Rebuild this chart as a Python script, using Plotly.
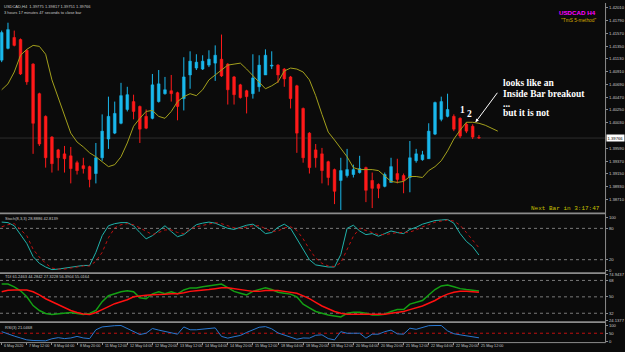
import plotly.graph_objects as go

W, H = 625, 352
def px(x): return x / W
def py(y): return 1 - y / H

# ---------------- data ----------------
OPEN = [1.41109,1.41313,1.41500,1.41466,1.41279,1.41041,1.40531,1.40140,1.39783,1.39562,
        1.39494,1.39460,1.39341,1.39290,1.39273,1.39154,1.39426,1.39749,1.39851,1.40021,
        1.40259,1.40395,1.40310,1.40140,1.40106,1.40395,1.40531,1.40582,1.40548,1.40446,
        1.40854,1.40973,1.40956,1.41024,1.41058,1.41126,1.41041,1.40820,1.40684,1.40582,
        1.40531,1.40650,1.40854,1.41007,1.41024,1.40956,1.40820,1.40667,1.40276,1.39851,
        1.39562,1.39494,1.39358,1.39222,1.39035,1.39120,1.39137,1.39171,1.39256,1.39035,
        1.38967,1.38933,1.39001,1.39154,1.39120,1.39086,1.39375,1.39392,1.39409,1.39834,
        1.40089,1.40140,1.40140,1.40106,1.40004,1.39970,1.39775]
HIGH = [1.41619,1.41755,1.41619,1.41483,1.41296,1.41058,1.40548,1.40157,1.39800,1.39579,
        1.39630,1.39613,1.39375,1.39426,1.39290,1.39681,1.40174,1.40480,1.40395,1.40718,
        1.40650,1.40514,1.40327,1.40259,1.40871,1.40939,1.40820,1.40854,1.40565,1.41160,
        1.41262,1.41211,1.41194,1.41279,1.41364,1.41551,1.41058,1.40837,1.40701,1.40599,
        1.41211,1.41194,1.41296,1.41262,1.41041,1.40973,1.40837,1.40684,1.40293,1.39868,
        1.39664,1.39596,1.39375,1.39239,1.39426,1.39579,1.39307,1.39460,1.39273,1.39171,
        1.38984,1.39171,1.39426,1.39409,1.39154,1.39715,1.39579,1.39545,1.40021,1.40395,
        1.40480,1.40531,1.40174,1.40123,1.40038,1.40004,1.39817]
LOW = [1.41075,1.41296,1.41347,1.40854,1.40684,1.39494,1.39630,1.39256,1.39171,1.39205,
       1.39171,1.38984,1.39137,1.39154,1.38916,1.38984,1.39375,1.39579,1.39834,1.40004,
       1.40225,1.40089,1.39681,1.39919,1.40089,1.40378,1.40514,1.40395,1.40072,1.40242,
       1.40616,1.40939,1.40939,1.40990,1.40752,1.40820,1.40344,1.40344,1.40446,1.40191,
       1.40446,1.40565,1.40854,1.40956,1.40718,1.40650,1.40276,1.39511,1.39341,1.39154,
       1.39256,1.38984,1.38950,1.38627,1.38525,1.39086,1.39086,1.39154,1.38661,1.38559,
       1.38729,1.38916,1.39001,1.38984,1.38814,1.38831,1.39341,1.39375,1.39409,1.39817,
       1.40055,1.40123,1.39885,1.39766,1.39851,1.39749,1.39751]
CLOSE = [1.41585,1.41636,1.41364,1.40871,1.40735,1.40021,1.39664,1.39426,1.39324,1.39426,
         1.39409,1.39239,1.39205,1.39239,1.39052,1.39426,1.39885,1.40140,1.40191,1.40497,
         1.40514,1.40225,1.39919,1.39936,1.40684,1.40701,1.40599,1.40531,1.40310,1.40820,
         1.41092,1.41075,1.41092,1.41126,1.41194,1.40837,1.40599,1.40514,1.40463,1.40480,
         1.40803,1.41024,1.41194,1.41024,1.40854,1.40786,1.40446,1.39851,1.39426,1.39256,
         1.39426,1.39205,1.39086,1.38848,1.39205,1.39222,1.39222,1.39239,1.38865,1.38899,
         1.38899,1.39137,1.39273,1.39052,1.39035,1.39426,1.39494,1.39477,1.39885,1.40378,
         1.40395,1.40259,1.39919,1.39800,1.39885,1.39783,1.39766]
# displaced moving average (extends 3 bars past the last candle)
MA = [1.40599,1.40701,1.40905,1.41194,1.41296,1.41364,1.41347,1.41211,1.40769,1.40463,
      1.40174,1.39851,1.39698,1.39613,1.39511,1.39443,1.39358,1.39273,1.39307,1.39443,
      1.39681,1.39970,1.40106,1.40225,1.40242,1.40140,1.40106,1.40225,1.40395,1.40480,
      1.40531,1.40497,1.40599,1.40769,1.40854,1.40939,1.41024,1.41041,1.41058,1.40956,
      1.40837,1.40735,1.40616,1.40667,1.40735,1.40922,1.40973,1.40956,1.40905,1.40769,
      1.40497,1.40174,1.39868,1.39732,1.39596,1.39443,1.39256,1.39222,1.39222,1.39222,
      1.39205,1.39103,1.39018,1.39001,1.39018,1.39103,1.39103,1.39086,1.39205,1.39273,
      1.39375,1.39545,1.39749,1.39902,1.40038,1.40038,1.40021,1.39987,1.39936,1.39885]
STOCH_MAIN = [92,91,85,68,51,26,13,6,1,2,4,6,8,9,9,34,66,85,89,91,91,85,72,60,66,75,85,74,64,68,
              77,87,90,92,90,85,80,78,82,86,88,80,70,72,82,88,80,60,40,20,10,8,6,6,30,80,86,75,
              68,70,65,70,75,72,70,78,82,88,92,95,96,97,90,70,55,45,28.8886]
STOCH_SIG = [83,87,89,77,66,40,25,13,4,2,2,4,6,8,8,17,34,62,81,87,89,87,81,74,68,72,77,77,72,70,
             79,83,86,89,91,89,85,81,80,82,85,85,79,74,75,81,83,76,60,40,23,13,8,7,14,39,65,80,
             76,71,68,68,70,72,72,73,77,83,87,92,94,96,94,86,72,57,42.8139]
TDI_GREEN = [64.1,64.1,60.9,56.6,50.1,40.4,35.0,31.7,30.6,31.2,31.7,32.8,31.7,30.6,31.7,35.0,
             44.7,51.2,53.3,55.5,56.6,55.5,49.0,47.9,53.3,55.5,53.3,55.5,53.3,57.6,59.8,59.8,
             61,62,63,64,60,56,54,52,56,58,60,58,55,54,53,50,42,38,34,32,30,29,28,32,
             33,33,32,30,30,31,34,36,36,42,44,46,52,58,62,63,61,59,58,57,56.3904]
TDI_RED = [55.5,57.1,57.6,57.6,57.6,55.5,52.2,47.9,44.7,41.5,38.2,35.0,32.8,31.2,30.6,32.8,
           36.0,39.3,42.5,44.7,46.8,50.1,51.2,51.7,52.2,52.2,52.8,53.3,53.3,54.4,56.0,56.6,
           57,58,59,60,60,59,58,57,56,56,57,57,57,56,55,54,51,48,44,40,37,34,32,31,
           31,31,31,31,31,31,32,33,34,36,38,40,43,46,50,53,55,56,56,55.5,55.0164]
RSI = [60,44,32,20,8,4,2,2,15,22,16,20,30,20,16,72,90,96,98,99,80,58,42,50,80,70,60,50,44,90,
       72,72,75,80,84,30,19,28,36,55,72,88,92,78,52,40,28,12,20,19,37,40,16,8,60,50,50,50,19,44,
       44,60,70,46,44,82,75,88,98,99,99,65,47,40,33,25,21.0468]
TIME_LABELS = ["6 May 2020","7 May 12:00","8 May 04:00","8 May 20:00","11 May 12:00",
               "12 May 04:00","12 May 20:00","13 May 12:00","14 May 04:00","14 May 20:00",
               "15 May 12:00","18 May 04:00","18 May 20:00","19 May 12:00","20 May 04:00",
               "20 May 20:00","21 May 12:00","22 May 04:00","22 May 20:00","25 May 12:00"]
TIME_LABEL_BARS = [0,4,8,12,16,20,24,28,32,36,40,44,48,52,56,60,64,68,72,76]
PRICE_TICKS = [1.42010,1.41790,1.41570,1.41350,1.41130,1.40910,1.40690,1.40470,1.40250,
               1.40030,1.39590,1.39370,1.39150,1.38930,1.38710]
LAST_PRICE = 1.39766
STOCH_LEVELS = [20, 80]
TDI_LEVELS = [32, 50, 68]
TDI_RANGE = [24.1377, 74.9437]
RSI_LEVEL = 50

# ---------------- styles ----------------
BG = "#0b0b0b"
UP = "#1ab8ec"
DN = "#ff1a1a"
GRAY = "#8c8c8c"
TXT = "#c8c8c8"
FONT = "Liberation Sans"

n = len(OPEN)
idx = list(range(n))
up = [i for i in idx if CLOSE[i] >= OPEN[i]]
dn = [i for i in idx if CLOSE[i] < OPEN[i]]

fig = go.Figure()

def wick_trace(ids, color):
    xs, ys = [], []
    for i in ids:
        xs += [i, i, None]
        ys += [LOW[i], HIGH[i], None]
    return go.Scatter(x=xs, y=ys, mode="lines", line=dict(color=color, width=1),
                      hoverinfo="skip", showlegend=False, xaxis="x", yaxis="y")

def body_trace(ids, color):
    return go.Bar(x=ids, y=[abs(CLOSE[i] - OPEN[i]) for i in ids],
                  base=[min(OPEN[i], CLOSE[i]) for i in ids], width=0.44,
                  marker=dict(color=color, line=dict(color=color, width=0.5)),
                  showlegend=False, xaxis="x", yaxis="y")

fig.add_trace(wick_trace(up, UP))
fig.add_trace(wick_trace(dn, DN))
fig.add_trace(body_trace(up, UP))
fig.add_trace(body_trace(dn, DN))
fig.add_trace(go.Scatter(x=list(range(len(MA))), y=MA, mode="lines",
                         line=dict(color="#a3a01c", width=1), showlegend=False,
                         xaxis="x", yaxis="y"))

# stochastic
fig.add_trace(go.Scatter(x=idx, y=STOCH_MAIN, mode="lines", line=dict(color="#20b2aa", width=1),
                         showlegend=False, xaxis="x", yaxis="y2"))
fig.add_trace(go.Scatter(x=idx, y=STOCH_SIG, mode="lines",
                         line=dict(color="#c01010", width=1, dash="dot"),
                         showlegend=False, xaxis="x", yaxis="y2"))
# TDI
fig.add_trace(go.Scatter(x=idx, y=TDI_GREEN, mode="lines", line=dict(color="#14a014", width=1.5),
                         showlegend=False, xaxis="x", yaxis="y3"))
fig.add_trace(go.Scatter(x=idx, y=TDI_RED, mode="lines", line=dict(color="#ff1010", width=1.5),
                         showlegend=False, xaxis="x", yaxis="y3"))
# RSI
fig.add_trace(go.Scatter(x=idx, y=RSI, mode="lines", line=dict(color="#2a78d0", width=1),
                         showlegend=False, xaxis="x", yaxis="y4"))

XR = [(0 - 1.7) / 6.3, (607 - 1.7) / 6.3]
tickfont = dict(family=FONT, size=4.2, color=TXT)

def yax(dom, rng, tv, tt):
    return dict(domain=dom, range=rng, side="right", anchor="x", showgrid=False,
                zeroline=False, showline=False, tickvals=tv, ticktext=tt,
                ticks="outside", ticklen=2, tickcolor=GRAY, tickfont=tickfont,
                fixedrange=True)

fig.update_layout(
    width=W, height=H, margin=dict(l=0, r=0, t=0, b=0),
    paper_bgcolor=BG, plot_bgcolor=BG, barmode="overlay", showlegend=False,
    xaxis=dict(domain=[0, px(607)], range=XR, anchor="y4", showgrid=False, zeroline=False,
               showline=False, tickvals=TIME_LABEL_BARS, ticks="outside", ticklen=2,
               tickcolor=GRAY, showticklabels=False),
    yaxis=yax([py(212), py(0)], [1.42095 - 0.00017 * 212, 1.42095], PRICE_TICKS,
              ["%.5f" % v for v in PRICE_TICKS]),
    yaxis2=yax([py(273), py(216)], [-3.8, 103.8], [0, 20, 80, 100], ["0", "20", "80", "100"]),
    yaxis3=yax([py(322), py(275)], TDI_RANGE, [TDI_RANGE[0], 32, 50, 68, TDI_RANGE[1]],
               ["%.4f" % TDI_RANGE[0], "32", "50", "68", "%.4f" % TDI_RANGE[1]]),
    yaxis4=yax([py(344), py(325)], [-6.25, 112.5], [0, 50, 100], ["0", "50", "100"]),
)

shapes = []
# panel separators
for y0 in [212.5, 273.2, 322.8]:
    shapes.append(dict(type="rect", xref="paper", yref="paper", x0=0, x1=px(607),
                       y0=py(y0 + 1.8), y1=py(y0), fillcolor=GRAY, line=dict(width=0)))
shapes.append(dict(type="line", xref="paper", yref="paper", x0=px(607.5), x1=px(607.5),
                   y0=py(344.5), y1=1, line=dict(color=GRAY, width=1)))
shapes.append(dict(type="line", xref="paper", yref="paper", x0=0, x1=px(607.5),
                   y0=py(344.5), y1=py(344.5), line=dict(color=GRAY, width=1)))
# bid line
shapes.append(dict(type="line", xref="paper", yref="y", x0=0, x1=px(607), y0=LAST_PRICE,
                   y1=LAST_PRICE, line=dict(color="#2e2e2e", width=1), layer="below"))
for lv in STOCH_LEVELS:
    shapes.append(dict(type="line", xref="paper", yref="y2", x0=0, x1=px(607), y0=lv, y1=lv,
                       line=dict(color="#7a7a7a", width=1, dash="dot"), layer="below"))
for lv in TDI_LEVELS:
    shapes.append(dict(type="line", xref="paper", yref="y3", x0=0, x1=px(607), y0=lv, y1=lv,
                       line=dict(color="#7a7a7a", width=1, dash="dot"), layer="below"))
shapes.append(dict(type="line", xref="paper", yref="y4", x0=0, x1=px(607), y0=RSI_LEVEL,
                   y1=RSI_LEVEL, line=dict(color="#c01010", width=1, dash="dot"), layer="below"))
fig.update_layout(shapes=shapes)

ann = []
def txt(x, y, s, size, color, family=FONT, xanchor="left", bold=False):
    ann.append(dict(xref="paper", yref="paper", x=px(x), y=py(y), text=("<b>%s</b>" % s) if bold else s,
                    showarrow=False, xanchor=xanchor, yanchor="middle",
                    font=dict(family=family, size=size, color=color)))

txt(2, 4, "USDCAD,H4  %.5f %.5f %.5f %.5f" % (OPEN[-1], HIGH[-1], LOW[-1], CLOSE[-1]), 4.0, TXT)
txt(2, 9.5, "3 hours 17 minutes 47 seconds to close bar", 4.0, TXT)
txt(600, 10, "USDCAD H4", 6.2, "#ff00ff", xanchor="right", bold=True)
txt(600, 18, "\"TmS 5-method\"", 4.8, "#d4aa00", xanchor="right")
txt(604, 208, "Next Bar in 3:17:47", 6, "#c8c000", family="Liberation Mono", xanchor="right")
txt(3, 219, "Stoch(8,3,3) 28.8886 42.8139", 4.0, TXT)
txt(3, 277.5, "TDI 61.2463 44.2842 27.3228 56.3904 55.0164", 4.0, TXT)
txt(3, 329, "RSI(3) 21.0468", 4.0, TXT)

serif = "Liberation Serif"
txt(503, 81, "looks like an", 9.5, "white", family=serif, bold=True)
txt(503, 92, "Inside Bar breakout", 9.5, "white", family=serif, bold=True)
txt(503, 102, "...", 9.5, "white", family=serif, bold=True)
txt(503, 112, "but it is not", 9.5, "white", family=serif, bold=True)
txt(459, 109, "1", 9.5, "white", family=serif, bold=True)
txt(466, 113, "2", 9.5, "white", family=serif, bold=True)

ann.append(dict(xref="paper", yref="paper", x=px(477), y=py(121), ax=23, ay=-31, text="",
                showarrow=True, arrowhead=2, arrowsize=0.7, arrowwidth=1, arrowcolor="white"))

# current price box
ann.append(dict(xref="paper", yref="y", x=px(608), y=LAST_PRICE, text="%.5f" % LAST_PRICE,
                showarrow=False, xanchor="left", yanchor="middle", bgcolor="white",
                borderpad=0.5, font=dict(family=FONT, size=4.2, color="black")))

# time labels
for b, lab in zip(TIME_LABEL_BARS, TIME_LABELS):
    ann.append(dict(xref="x", yref="paper", x=b, y=py(348), text=lab, showarrow=False,
                    xanchor="left", yanchor="middle", xshift=0.5,
                    font=dict(family=FONT, size=3.7, color=TXT)))
fig.update_layout(annotations=ann)

fig.write_html("out.html")
